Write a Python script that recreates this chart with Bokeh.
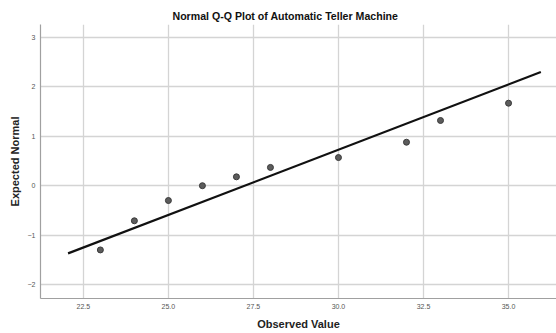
from bokeh.plotting import figure
from bokeh.models import Range1d, FixedTicker, PrintfTickFormatter, Title
from bokeh.embed import file_html
from bokeh.resources import INLINE

# Data
observed = [23, 24, 25, 26, 27, 28, 30, 32, 33, 35]
expected = [-1.30, -0.71, -0.30, 0.00, 0.18, 0.37, 0.57, 0.88, 1.32, 1.67]
line_x = [22.05, 35.95]
line_y = [-1.37, 2.30]
x_ticks = [22.5, 25.0, 27.5, 30.0, 32.5, 35.0]
y_ticks = [-2, -1, 0, 1, 2, 3]

title_text = "Normal Q-Q Plot of Automatic Teller Machine"
x_label = "Observed Value"
y_label = "Expected Normal"

FONT = "Liberation Sans"

p = figure(width=556, height=333,
           x_range=Range1d(21.24, 36.41), y_range=Range1d(-2.283, 3.263),
           output_backend="svg", toolbar_location=None, title=None,
           min_border_left=40, min_border_right=0, min_border_top=24, min_border_bottom=35)
p.outline_line_color = None
p.background_fill_color = "white"

# title
p.add_layout(Title(text=title_text, align="left", offset=132, vertical_align="bottom",
                   standoff=6, text_font=FONT, text_font_size="10.6px",
                   text_font_style="bold", text_color="#111111"), "above")

# grid
p.xgrid.ticker = FixedTicker(ticks=x_ticks)
p.ygrid.ticker = FixedTicker(ticks=y_ticks)
for g in (p.xgrid, p.ygrid):
    g.grid_line_color = "#d4d4d4"
    g.grid_line_width = 1.3

# axes
p.xaxis.ticker = FixedTicker(ticks=x_ticks)
p.xaxis.formatter = PrintfTickFormatter(format="%.1f")
p.yaxis.ticker = FixedTicker(ticks=y_ticks)
for ax in (p.xaxis, p.yaxis):
    ax.axis_line_color = "#a0a0a0"
    ax.axis_line_width = 1.2
    ax.major_tick_out = 0
    ax.major_tick_in = 0
    ax.minor_tick_out = 0
    ax.minor_tick_in = 0
    ax.major_label_text_font = FONT
    ax.major_label_text_font_size = "7px"
    ax.major_label_text_color = "#555555"
    ax.axis_label_text_font = FONT
    ax.axis_label_text_font_size = "11px"
    ax.axis_label_text_font_style = "bold"
    ax.axis_label_text_color = "#222222"
p.xaxis.major_label_standoff = 5
p.yaxis.major_label_standoff = 5

p.yaxis.axis_label = y_label
p.yaxis.axis_label_standoff = 4
p.xaxis.axis_label = x_label
p.xaxis.axis_label_standoff = 6

# fitted line and points
p.line(line_x, line_y, line_color="#111111", line_width=2.2)
p.scatter(observed, expected, size=6, fill_color="#5c5c5c", line_color="#3a3a3a", line_width=1)

open("out.html", "w").write(file_html(p, INLINE))
